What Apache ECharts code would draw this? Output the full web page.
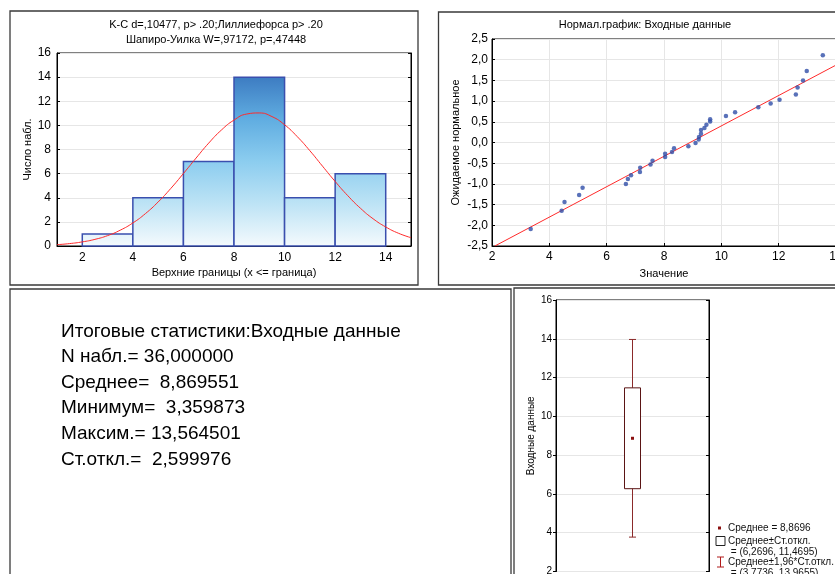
<!DOCTYPE html>
<html>
<head>
<meta charset="utf-8">
<script src="https://cdn.jsdelivr.net/npm/echarts@6.0.0/dist/echarts.min.js"></script>
<style>
  html, body { margin: 0; padding: 0; background: #fff; }
  #chart { width: 835px; height: 574px; }
</style>
</head>
<body>
<div id="chart"></div>
<script>
// histogram: bin edges and counts
const histBins = [[2, 4], [4, 6], [6, 8], [8, 10], [10, 12], [12, 14]]
const histCounts = [1, 4, 7, 14, 4, 6]
const histTicks = [2, 4, 6, 8, 10, 12, 14]

// fitted normal curve
const curveX = [1, 1.5, 2, 2.5, 3, 3.5, 4, 4.5, 5, 5.5, 6, 6.5, 7, 7.5, 8, 8.5, 9, 9.5, 10, 10.5, 11, 11.5, 12, 12.5, 13, 13.5, 14, 14.5, 15]
const curveY = [0.11, 0.2, 0.34, 0.55, 0.86, 1.31, 1.91, 2.69, 3.65, 4.77, 6.01, 7.29, 8.53, 9.61, 10.44, 10.94, 11.03, 10.73, 10.05, 9.07, 7.9, 6.62, 5.35, 4.17, 3.13, 2.26, 1.58, 1.06, 0.69]

// normal probability plot
const qqValues = [3.35, 4.43, 4.53, 5.04, 5.16, 6.67, 6.74, 6.85, 7.16, 7.17, 7.53, 7.6, 8.04, 8.04, 8.28, 8.35, 8.85, 9.1, 9.21, 9.22, 9.29, 9.29, 9.41, 9.48, 9.61, 9.61, 10.16, 10.48, 11.29, 11.72, 12.03, 12.6, 12.66, 12.85, 12.98, 13.54]
const qqExpected = [-2.09, -1.65, -1.44, -1.27, -1.09, -1.0, -0.88, -0.79, -0.71, -0.61, -0.53, -0.44, -0.35, -0.27, -0.23, -0.14, -0.09, -0.01, 0.07, 0.13, 0.21, 0.3, 0.35, 0.43, 0.51, 0.56, 0.64, 0.73, 0.85, 0.94, 1.03, 1.16, 1.33, 1.5, 1.73, 2.11]
const qqLineX = [2.1, 14]
const qqLineY = [-2.5, 1.87]

// box plot (mean, mean±sd, mean±1.96sd)
const boxMean = 8.8696
const boxSdRange = [6.2696, 11.4695]
const boxCiRange = [3.7736, 13.9655]

// summary text
const statLines = [
    'Итоговые статистики:Входные данные',
    'N набл.= 36,000000',
    'Среднее=  8,869551',
    'Минимум=  3,359873',
    'Максим.= 13,564501',
    'Ст.откл.=  2,599976'
]
const boxLegend = [
    'Среднее = 8,8696',
    'Среднее±Ст.откл.',
    ' = (6,2696, 11,4695)',
    'Среднее±1,96*Ст.откл.',
    ' = (3,7736, 13,9655)'
]

const font = 'Liberation Sans, Arial, sans-serif'

const barFill = new echarts.graphic.LinearGradient(0, 246, 0, 77, [
    { offset: 0, color: '#f4fafd' },
    { offset: 0.25, color: '#bde3f5' },
    { offset: 0.5, color: '#8ccdef' },
    { offset: 0.75, color: '#60ade1' },
    { offset: 1, color: '#3d7cc2' }
], true)

function axisText(size) {
    return { color: '#000', fontSize: size, fontFamily: font }
}

function renderHist(params, api) {
    const p0 = api.coord([api.value(0), 0])
    const p1 = api.coord([api.value(1), api.value(2)])
    return {
        type: 'rect',
        shape: { x: p0[0], y: p1[1], width: p1[0] - p0[0], height: p0[1] - p1[1] },
        style: { fill: barFill, stroke: '#3a4fae', lineWidth: 1.5 }
    }
}

function renderBox(params, api) {
    const cx = api.coord([api.value(0), api.value(1)])[0]
    const y = i => api.coord([0.5, api.value(i)])[1]
    const yMean = y(1), ySdLo = y(2), ySdHi = y(3), yCiLo = y(4), yCiHi = y(5)
    const whisker = { stroke: '#8b2a2a', lineWidth: 1 }
    return {
        type: 'group',
        children: [
            { type: 'line', shape: { x1: cx, y1: yCiLo, x2: cx, y2: yCiHi }, style: whisker },
            { type: 'line', shape: { x1: cx - 3.5, y1: yCiLo, x2: cx + 3.5, y2: yCiLo }, style: whisker },
            { type: 'line', shape: { x1: cx - 3.5, y1: yCiHi, x2: cx + 3.5, y2: yCiHi }, style: whisker },
            { type: 'rect', shape: { x: cx - 8, y: ySdHi, width: 16, height: ySdLo - ySdHi },
              style: { fill: '#fff', stroke: '#5a1414', lineWidth: 1 } },
            { type: 'rect', shape: { x: cx - 1.5, y: yMean - 1.5, width: 3, height: 3 },
              style: { fill: '#8b1010' } }
        ]
    }
}

const graphics = [
    // panel frames
    { type: 'rect', shape: { x: 10, y: 11, width: 408, height: 274 }, style: { fill: null, stroke: '#3a3a3a', lineWidth: 1.3 } },
    { type: 'rect', shape: { x: 438.5, y: 12, width: 420, height: 273 }, style: { fill: null, stroke: '#3a3a3a', lineWidth: 1.3 } },
    { type: 'rect', shape: { x: 10, y: 289, width: 501, height: 300 }, style: { fill: null, stroke: '#3a3a3a', lineWidth: 1.3 } },
    { type: 'rect', shape: { x: 514, y: 288, width: 340, height: 300 }, style: { fill: null, stroke: '#3a3a3a', lineWidth: 1.3 } },
    // titles
    { type: 'text', x: 216, y: 25, style: { text: 'K-C d=,10477, p> .20;Лиллиефорса p> .20', align: 'center', verticalAlign: 'middle', fontSize: 11, fontFamily: font, fill: '#000' } },
    { type: 'text', x: 216, y: 40, style: { text: 'Шапиро-Уилка W=,97172, p=,47448', align: 'center', verticalAlign: 'middle', fontSize: 11, fontFamily: font, fill: '#000' } },
    { type: 'text', x: 645, y: 25, style: { text: 'Нормал.график: Входные данные', align: 'center', verticalAlign: 'middle', fontSize: 11, fontFamily: font, fill: '#000' } }
]

const statY = [332, 357, 383, 408, 434, 460]
statLines.forEach((t, i) => {
    graphics.push({ type: 'text', x: 61, y: statY[i], style: { text: t, verticalAlign: 'middle', fontSize: 19, fontFamily: font, fill: '#000' } })
})

// box plot legend
const legY = [528, 541, 552, 562, 573]
boxLegend.forEach((t, i) => {
    graphics.push({ type: 'text', x: 728, y: legY[i], style: { text: t, verticalAlign: 'middle', fontSize: 10, fontFamily: font, fill: '#111' } })
})
graphics.push(
    { type: 'rect', shape: { x: 718, y: legY[0] - 1.5, width: 3, height: 3 }, style: { fill: '#8b1010' } },
    { type: 'rect', shape: { x: 716, y: legY[1] - 4.5, width: 9, height: 9 }, style: { fill: '#fff', stroke: '#222', lineWidth: 1 } },
    { type: 'line', shape: { x1: 720.5, y1: legY[3] - 5, x2: 720.5, y2: legY[3] + 5 }, style: { stroke: '#b01a1a', lineWidth: 1 } },
    { type: 'line', shape: { x1: 717, y1: legY[3] - 5, x2: 724, y2: legY[3] - 5 }, style: { stroke: '#b01a1a', lineWidth: 1 } },
    { type: 'line', shape: { x1: 717, y1: legY[3] + 5, x2: 724, y2: legY[3] + 5 }, style: { stroke: '#b01a1a', lineWidth: 1 } }
)

const gridLine = { show: true, lineStyle: { color: '#e6e6e6', width: 1 } }

const option = {
    animation: false,
    backgroundColor: '#fff',
    grid: [
        { left: 57, top: 53, width: 354, height: 193, show: true, borderColor: '#000', borderWidth: 1, outerBoundsMode: 'none' },
        { left: 492, top: 39, width: 344, height: 207, show: true, borderColor: '#000', borderWidth: 1, outerBoundsMode: 'none' },
        { left: 556, top: 300, width: 153, height: 271.5, show: true, borderColor: '#000', borderWidth: 1, outerBoundsMode: 'none' }
    ],
    xAxis: [
        {
            gridIndex: 0, type: 'value', min: 1, max: 15,
            axisLine: { onZero: false, lineStyle: { color: '#000' } },
            axisTick: { show: false },
            axisLabel: { ...axisText(12), margin: 6, customValues: histTicks },
            splitLine: { show: false },
            name: 'Верхние границы (x <= граница)', nameLocation: 'middle', nameGap: 21,
            nameTextStyle: axisText(11)
        },
        {
            gridIndex: 1, type: 'value', min: 2, max: 14, interval: 2,
            axisLine: { onZero: false, lineStyle: { color: '#000' } },
            axisTick: { inside: true, length: 3, lineStyle: { color: '#000' } },
            axisLabel: { ...axisText(12), margin: 5 },
            splitLine: gridLine,
            name: 'Значение', nameLocation: 'middle', nameGap: 22,
            nameTextStyle: axisText(11)
        },
        { gridIndex: 2, type: 'value', min: 0, max: 1, show: false }
    ],
    yAxis: [
        {
            gridIndex: 0, type: 'value', min: 0, max: 16, interval: 2,
            axisLine: { show: true, onZero: false, lineStyle: { color: '#000' } },
            axisTick: { show: true, inside: true, length: 3, lineStyle: { color: '#000' } },
            axisLabel: { ...axisText(12), margin: 6 },
            splitLine: gridLine,
            name: 'Число набл.', nameLocation: 'middle', nameGap: 24, nameRotate: 90,
            nameTextStyle: axisText(11)
        },
        {
            gridIndex: 0, type: 'value', min: 0, max: 16, interval: 2, position: 'right',
            axisLine: { show: true, onZero: false, lineStyle: { color: '#000' } },
            axisTick: { show: true, inside: true, length: 3, lineStyle: { color: '#000' } },
            axisLabel: { show: false }, splitLine: { show: false }
        },
        {
            gridIndex: 1, type: 'value', min: -2.5, max: 2.5, interval: 0.5,
            axisLine: { show: true, onZero: false, lineStyle: { color: '#000' } },
            axisTick: { show: true, inside: true, length: 3, lineStyle: { color: '#000' } },
            axisLabel: { ...axisText(12), margin: 4, formatter: v => v.toFixed(1).replace('.', ',') },
            splitLine: gridLine,
            name: 'Ожидаемое нормальное', nameLocation: 'middle', nameGap: 31, nameRotate: 90,
            nameTextStyle: axisText(11)
        },
        {
            gridIndex: 2, type: 'value', min: 2, max: 16, interval: 2,
            axisLine: { show: true, onZero: false, lineStyle: { color: '#000' } },
            axisTick: { show: true, length: 3, lineStyle: { color: '#000' } },
            axisLabel: { ...axisText(10), margin: 4 },
            splitLine: gridLine,
            name: 'Входные данные', nameLocation: 'middle', nameGap: 20, nameRotate: 90,
            nameTextStyle: axisText(10)
        },
        {
            gridIndex: 2, type: 'value', min: 2, max: 16, interval: 2, position: 'right',
            axisLine: { show: true, onZero: false, lineStyle: { color: '#000' } },
            axisTick: { show: true, inside: true, length: 3, lineStyle: { color: '#000' } },
            axisLabel: { show: false }, splitLine: { show: false }
        }
    ],
    series: [
        {
            type: 'custom', xAxisIndex: 0, yAxisIndex: 0,
            renderItem: renderHist,
            encode: { x: [0, 1], y: 2 },
            data: histBins.map((b, i) => [b[0], b[1], histCounts[i]])
        },
        {
            type: 'line', xAxisIndex: 0, yAxisIndex: 0, smooth: true, showSymbol: false,
            lineStyle: { color: '#ff2a2a', width: 1 },
            data: curveX.map((x, i) => [x, curveY[i]]),
            z: 3
        },
        {
            type: 'line', xAxisIndex: 1, yAxisIndex: 2, showSymbol: false,
            lineStyle: { color: '#ff2a2a', width: 1 },
            data: qqLineX.map((x, i) => [x, qqLineY[i]])
        },
        {
            type: 'scatter', xAxisIndex: 1, yAxisIndex: 2, symbolSize: 4.5,
            itemStyle: { color: '#2f4ea8' },
            data: qqValues.map((x, i) => [x, qqExpected[i]]),
            z: 4
        },
        {
            type: 'custom', xAxisIndex: 2, yAxisIndex: 3,
            renderItem: renderBox,
            encode: { x: 0, y: [1, 2, 3, 4, 5] },
            data: [[0.5, boxMean, boxSdRange[0], boxSdRange[1], boxCiRange[0], boxCiRange[1]]]
        }
    ],
    graphic: graphics
}

const chart = echarts.init(document.getElementById('chart'))
chart.setOption(option)
</script>
</body>
</html>
